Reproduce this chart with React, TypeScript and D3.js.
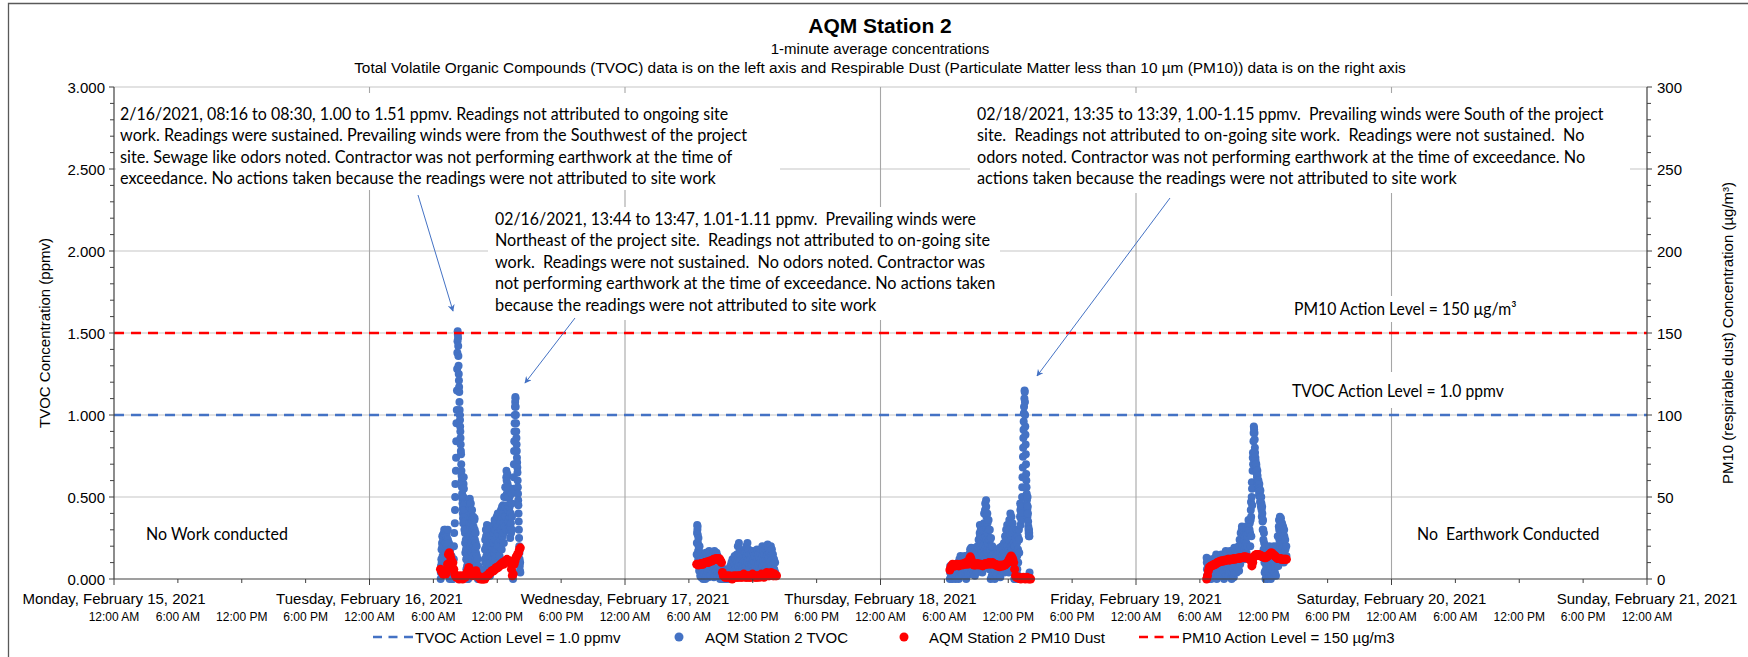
import React from "react";
import * as d3 from "d3";

// ---------------- data ----------------
const dayLabels = [
  "Monday, February 15, 2021",
  "Tuesday, February 16, 2021",
  "Wednesday, February 17, 2021",
  "Thursday, February 18, 2021",
  "Friday, February 19, 2021",
  "Saturday, February 20, 2021",
  "Sunday, February 21, 2021",
];
const hourLabels = ["12:00 AM", "6:00 AM", "12:00 PM", "6:00 PM"];
const tvocTicks = [0, 0.5, 1, 1.5, 2, 2.5, 3];
const pm10Ticks = [0, 50, 100, 150, 200, 250, 300];
const TVOC_ACTION = 1.0;
const PM10_ACTION = 150;
const DOMAIN_START = new Date(2021, 1, 15);
const DOMAIN_END = new Date(2021, 1, 21);

// TVOC (ppmv): each row = [minute of day, readings at consecutive minutes...]
const tvocFeb16: number[][] = [
  [401, 0.0, 0.04, 0.08], [405, 0.12, 0.18, 0.1], [409, 0.22, 0.26, 0.2, 0.14],
  [414, 0.27, 0.24, 0.18, 0.1, 0.05], [420, 0.28, 0.3, 0.26, 0.2, 0.14],
  [427, 0.3, 0.27, 0.22, 0.16, 0.08], [434, 0.29, 0.26, 0.2, 0.12, 0.04],
  [441, 0.3, 0.24, 0.18, 0.1], [448, 0.22, 0.16, 0.1, 0.04, 0.0],
  [455, 0.18, 0.12, 0.06, 0.02], [462, 0.14, 0.08, 0.02, 0.0], [469, 0.1, 0.05, 0.0],
  [475, 0.12, 0.2, 0.28], [481, 0.34, 0.42, 0.5, 0.58], [487, 0.66, 0.74, 0.84, 0.95],
  [492, 1.03, 1.15, 1.28, 1.38, 1.45], [497, 1.51, 1.49, 1.47, 1.42, 1.36, 1.3],
  [503, 1.25, 1.21, 1.17, 1.14, 1.08], [508, 1.03, 1.0, 0.97, 0.93, 0.9],
  [513, 0.86, 0.82, 0.78, 0.76, 0.7], [518, 0.66, 0.63, 0.6, 0.56, 0.52],
  [523, 0.49, 0.46, 0.43, 0.4, 0.37, 0.34], [529, 0.5, 0.58, 0.62, 0.55, 0.45, 0.38, 0.3],
  [536, 0.42, 0.35, 0.28, 0.22, 0.16], [542, 0.3, 0.24, 0.18, 0.12, 0.06],
  [548, 0.2, 0.14, 0.08, 0.02, 0.0], [554, 0.1, 0.05, 0.0],
  [559, 0.18, 0.26, 0.34, 0.42, 0.48], [565, 0.49, 0.44, 0.38, 0.32, 0.26, 0.2],
  [571, 0.46, 0.4, 0.34, 0.28, 0.22, 0.16, 0.1], [578, 0.42, 0.36, 0.3, 0.24, 0.18, 0.12, 0.06],
  [585, 0.38, 0.32, 0.26, 0.2, 0.14, 0.08], [591, 0.36, 0.37, 0.3, 0.24, 0.18, 0.12, 0.05],
  [598, 0.28, 0.22, 0.16, 0.1, 0.04], [604, 0.2, 0.14, 0.08, 0.02], [609, 0.12, 0.06, 0.0],
  [614, 0.08, 0.02, 0.0], [620, 0.06, 0.0], [626, 0.04, 0.0], [632, 0.05, 0.01, 0.0],
  [638, 0.03, 0.0], [644, 0.06, 0.0], [650, 0.12, 0.18, 0.24, 0.1],
  [656, 0.3, 0.26, 0.2, 0.14, 0.08], [662, 0.33, 0.28, 0.22, 0.16, 0.1, 0.04],
  [669, 0.3, 0.24, 0.18, 0.12, 0.06], [675, 0.26, 0.2, 0.14, 0.08, 0.02],
  [681, 0.22, 0.16, 0.1, 0.04], [687, 0.26, 0.2, 0.14, 0.08], [693, 0.3, 0.24, 0.18, 0.12],
  [699, 0.33, 0.28, 0.22, 0.16, 0.1], [705, 0.36, 0.3, 0.24, 0.18, 0.12],
  [711, 0.35, 0.3, 0.24, 0.18], [717, 0.38, 0.32, 0.26, 0.2, 0.14], [723, 0.4, 0.34, 0.28, 0.22],
  [729, 0.38, 0.32, 0.26, 0.2, 0.14], [735, 0.4, 0.35, 0.3, 0.24], [741, 0.42, 0.36, 0.3, 0.24, 0.18],
  [747, 0.44, 0.38, 0.32, 0.26], [753, 0.45, 0.4, 0.34, 0.28, 0.22], [759, 0.5, 0.44, 0.38, 0.32],
  [765, 0.56, 0.5, 0.44, 0.38, 0.3], [771, 0.62, 0.66, 0.6, 0.52, 0.45],
  [777, 0.64, 0.58, 0.5, 0.42, 0.35], [783, 0.56, 0.5, 0.44, 0.38, 0.3],
  [789, 0.5, 0.44, 0.38, 0.32, 0.25], [795, 0.46, 0.4, 0.34, 0.28], [801, 0.52, 0.46, 0.38, 0.3],
  [807, 0.1, 0.04, 0.0], [812, 0.55, 0.62, 0.7, 0.78], [816, 0.84, 0.9, 0.95, 1.0],
  [820, 1.05, 1.08, 1.11, 1.1], [824, 1.05, 1.0, 0.95, 0.9, 0.86],
  [829, 0.82, 0.78, 0.74, 0.71, 0.68, 0.65], [835, 0.6, 0.56, 0.52, 0.48, 0.45],
  [840, 0.4, 0.35, 0.3, 0.25, 0.2], [845, 0.16, 0.12, 0.08, 0.05], [849, 0.1, 0.04],
];

const tvocFeb17: number[][] = [
  [404, 0.15, 0.22, 0.28, 0.33, 0.3], [409, 0.32, 0.27, 0.22, 0.17, 0.12],
  [414, 0.25, 0.2, 0.15, 0.1, 0.05], [420, 0.2, 0.15, 0.1, 0.05, 0.02],
  [426, 0.16, 0.11, 0.06, 0.01], [432, 0.12, 0.07, 0.02], [438, 0.1, 0.05, 0.0],
  [444, 0.13, 0.08, 0.03], [450, 0.15, 0.1, 0.05, 0.0], [456, 0.16, 0.12, 0.07, 0.02],
  [462, 0.15, 0.1, 0.05], [468, 0.16, 0.11, 0.06, 0.01], [474, 0.17, 0.12, 0.07],
  [480, 0.16, 0.11, 0.06, 0.02], [486, 0.15, 0.1, 0.05], [492, 0.14, 0.09, 0.04],
  [498, 0.16, 0.11, 0.06, 0.01], [504, 0.17, 0.12, 0.07], [510, 0.15, 0.1, 0.05],
  [516, 0.16, 0.11, 0.06, 0.02], [522, 0.14, 0.09, 0.04], [528, 0.12, 0.07, 0.02],
  [534, 0.08, 0.03, 0.0], [540, 0.06, 0.01], [546, 0.05, 0.0], [552, 0.04, 0.0],
  [558, 0.05, 0.0], [564, 0.06, 0.01], [570, 0.05, 0.0], [576, 0.04, 0.0],
  [582, 0.06, 0.01], [588, 0.05, 0.0], [594, 0.08, 0.03], [600, 0.1, 0.05, 0.0],
  [606, 0.12, 0.07, 0.02], [612, 0.1, 0.05], [618, 0.14, 0.09, 0.04], [624, 0.12, 0.07, 0.02],
  [630, 0.15, 0.1, 0.05], [636, 0.2, 0.14, 0.08], [642, 0.22, 0.16, 0.1, 0.04],
  [648, 0.18, 0.12, 0.06], [654, 0.14, 0.08, 0.02], [660, 0.12, 0.06], [666, 0.15, 0.1, 0.04],
  [672, 0.17, 0.11, 0.05], [678, 0.16, 0.1, 0.04], [684, 0.2, 0.14, 0.08, 0.02],
  [690, 0.22, 0.16, 0.1], [696, 0.18, 0.12, 0.06], [702, 0.15, 0.09, 0.03], [708, 0.12, 0.06],
  [714, 0.15, 0.09, 0.03], [720, 0.17, 0.11, 0.05], [726, 0.16, 0.1, 0.04], [732, 0.14, 0.08],
  [738, 0.16, 0.1, 0.04], [744, 0.18, 0.12, 0.06], [750, 0.15, 0.09, 0.03], [756, 0.13, 0.07],
  [762, 0.16, 0.1, 0.04], [768, 0.18, 0.12, 0.06], [774, 0.2, 0.14, 0.08], [780, 0.17, 0.11, 0.05],
  [786, 0.15, 0.09], [792, 0.18, 0.12, 0.06], [798, 0.2, 0.14, 0.08, 0.02], [804, 0.21, 0.15, 0.09],
  [810, 0.19, 0.13, 0.07], [816, 0.16, 0.1, 0.04], [822, 0.2, 0.14, 0.08], [828, 0.18, 0.12, 0.06],
  [834, 0.15, 0.09, 0.03], [840, 0.12, 0.06], [846, 0.1, 0.04],
];

const tvocFeb18: number[][] = [
  [391, 0.0, 0.04, 0.08], [397, 0.06, 0.02], [403, 0.08, 0.03, 0.0], [409, 0.09, 0.05],
  [415, 0.07, 0.02], [421, 0.09, 0.04, 0.0], [427, 0.06, 0.01], [433, 0.08, 0.03],
  [439, 0.1, 0.05, 0.0], [445, 0.12, 0.07, 0.02], [451, 0.14, 0.09, 0.04], [457, 0.1, 0.05],
  [463, 0.13, 0.08, 0.03], [469, 0.12, 0.07], [475, 0.14, 0.09, 0.04], [481, 0.12, 0.06, 0.0],
  [487, 0.1, 0.05], [493, 0.13, 0.08, 0.03], [499, 0.15, 0.1, 0.05], [505, 0.18, 0.13, 0.08, 0.03],
  [511, 0.19, 0.14, 0.09, 0.04], [517, 0.16, 0.11, 0.06], [523, 0.14, 0.09, 0.04],
  [529, 0.17, 0.12, 0.07, 0.02], [535, 0.19, 0.14, 0.09], [541, 0.16, 0.1, 0.04],
  [547, 0.2, 0.15, 0.1, 0.05], [553, 0.24, 0.19, 0.14, 0.08], [559, 0.28, 0.33, 0.26, 0.2, 0.14, 0.08],
  [565, 0.3, 0.24, 0.18, 0.12, 0.06], [571, 0.22, 0.16, 0.1, 0.04], [577, 0.26, 0.2, 0.14, 0.08],
  [583, 0.34, 0.4, 0.32, 0.25, 0.18, 0.12], [589, 0.42, 0.46, 0.4, 0.33, 0.26, 0.19],
  [595, 0.48, 0.44, 0.38, 0.31, 0.24, 0.17, 0.1], [602, 0.4, 0.34, 0.28, 0.22, 0.16, 0.1],
  [609, 0.36, 0.3, 0.24, 0.18, 0.12, 0.06], [616, 0.3, 0.24, 0.18, 0.12, 0.06, 0.0],
  [623, 0.25, 0.2, 0.14, 0.08, 0.02], [630, 0.2, 0.14, 0.08, 0.02], [636, 0.15, 0.09, 0.03],
  [642, 0.12, 0.06, 0.0], [648, 0.1, 0.04], [654, 0.14, 0.08, 0.02], [660, 0.18, 0.12, 0.06],
  [666, 0.16, 0.1, 0.04], [672, 0.19, 0.13, 0.07, 0.01], [678, 0.17, 0.11, 0.05],
  [684, 0.2, 0.14, 0.08], [690, 0.18, 0.12, 0.06], [696, 0.22, 0.16, 0.1, 0.04],
  [702, 0.26, 0.2, 0.14, 0.08], [708, 0.3, 0.24, 0.18, 0.12, 0.06], [714, 0.33, 0.27, 0.2, 0.13],
  [720, 0.3, 0.24, 0.17, 0.1, 0.04], [726, 0.36, 0.3, 0.23, 0.16, 0.09],
  [732, 0.4, 0.34, 0.27, 0.2, 0.13], [738, 0.38, 0.32, 0.25, 0.18, 0.11],
  [744, 0.34, 0.28, 0.21, 0.14, 0.07], [750, 0.3, 0.22, 0.14, 0.06, 0.0], [756, 0.2, 0.12, 0.04, 0.0],
  [762, 0.25, 0.16, 0.08, 0.0], [768, 0.3, 0.22, 0.14, 0.06], [774, 0.26, 0.18, 0.1, 0.02],
  [780, 0.3, 0.24, 0.16], [786, 0.38, 0.46, 0.42, 0.33], [792, 0.44, 0.4, 0.36],
  [798, 0.5, 0.56, 0.62], [802, 0.68, 0.745, 0.8, 0.86, 0.91], [807, 0.96, 1.01, 1.05],
  [811, 1.1, 1.15, 1.14, 1.08, 1.0], [816, 0.93, 0.88, 0.82, 0.76], [820, 0.7, 0.64, 0.6, 0.56, 0.52],
  [825, 0.48, 0.45, 0.42, 0.38], [829, 0.5, 0.44, 0.4, 0.35], [833, 0.32, 0.3, 0.28, 0.26],
  [837, 0.3, 0.28, 0.26], [840, 0.04, 0.0],
];

const tvocFeb19: number[][] = [
  [398, 0.13, 0.1, 0.06, 0.02], [404, 0.12, 0.08, 0.04, 0.0], [410, 0.1, 0.05, 0.0], [416, 0.08, 0.03],
  [422, 0.1, 0.05, 0.0], [428, 0.12, 0.07, 0.02], [434, 0.09, 0.04], [440, 0.11, 0.06, 0.01],
  [446, 0.13, 0.08, 0.03], [452, 0.15, 0.1, 0.05, 0.0], [458, 0.14, 0.09, 0.04], [464, 0.12, 0.07, 0.02],
  [470, 0.1, 0.05], [476, 0.13, 0.08, 0.03], [482, 0.15, 0.1, 0.05], [488, 0.12, 0.07, 0.02],
  [494, 0.1, 0.05, 0.0], [500, 0.14, 0.09, 0.04], [506, 0.17, 0.12, 0.07, 0.02], [512, 0.16, 0.11, 0.06],
  [518, 0.12, 0.07, 0.02], [524, 0.14, 0.09, 0.04], [530, 0.17, 0.12, 0.07], [536, 0.15, 0.1, 0.05, 0.0],
  [542, 0.12, 0.07], [548, 0.16, 0.11, 0.06, 0.01], [554, 0.19, 0.14, 0.09, 0.04], [560, 0.18, 0.13, 0.08],
  [566, 0.14, 0.09, 0.04], [572, 0.16, 0.11, 0.06], [578, 0.2, 0.15, 0.1, 0.05],
  [584, 0.24, 0.19, 0.14, 0.09], [590, 0.28, 0.23, 0.18, 0.13], [596, 0.3, 0.32, 0.26, 0.2, 0.14],
  [602, 0.31, 0.27, 0.21, 0.15], [608, 0.29, 0.24, 0.18, 0.12], [614, 0.31, 0.26, 0.2, 0.14],
  [620, 0.32, 0.28, 0.22, 0.16], [626, 0.3, 0.26, 0.2], [632, 0.28, 0.32, 0.36, 0.3],
  [640, 0.3, 0.34, 0.36, 0.28, 0.2], [646, 0.36, 0.42, 0.47, 0.38, 0.26], [652, 0.5, 0.59, 0.55, 0.45],
  [657, 0.66, 0.74, 0.77, 0.7], [662, 0.84, 0.89, 0.93, 0.92, 0.91], [668, 0.89, 0.85, 0.8, 0.77],
  [673, 0.74, 0.72, 0.7, 0.67], [678, 0.7, 0.68, 0.66, 0.64, 0.62], [684, 0.66, 0.63, 0.6, 0.58, 0.55],
  [690, 0.6, 0.57, 0.54, 0.51], [695, 0.58, 0.55, 0.52, 0.5, 0.47], [701, 0.54, 0.5, 0.47, 0.44],
  [706, 0.5, 0.46, 0.42, 0.38], [711, 0.44, 0.4, 0.35, 0.3], [716, 0.36, 0.3, 0.24, 0.18],
  [721, 0.28, 0.22, 0.16, 0.1, 0.04], [727, 0.2, 0.12, 0.05, 0.0], [733, 0.15, 0.08, 0.02],
  [739, 0.12, 0.06, 0.0], [745, 0.16, 0.1, 0.04], [751, 0.2, 0.14, 0.08, 0.02], [757, 0.18, 0.12, 0.06, 0.0],
  [763, 0.14, 0.08, 0.02], [769, 0.17, 0.11, 0.05], [775, 0.2, 0.14, 0.08, 0.02], [781, 0.16, 0.1, 0.04],
  [787, 0.14, 0.08, 0.02], [793, 0.2, 0.14, 0.08], [799, 0.26, 0.2, 0.14, 0.08],
  [805, 0.32, 0.36, 0.3, 0.24, 0.18], [811, 0.38, 0.36, 0.32, 0.26, 0.2], [817, 0.37, 0.33, 0.28, 0.22, 0.16],
  [823, 0.34, 0.3, 0.25, 0.19, 0.13], [829, 0.32, 0.28, 0.22, 0.16, 0.1], [835, 0.3, 0.26, 0.2, 0.14],
  [841, 0.24, 0.18, 0.12], [847, 0.2, 0.14],
];

// PM10 (ug/m3): readings every 5 minutes from the start minute
const pm10Feb16Start = 400;
const pm10Feb16: number[] = [
  6, 5, 4, 3, 3, 4, 3, 5, 9, 15, 16, 14, 12, 8, 10, 6, 3, 2, 1, 2, 1, 0, 1, 2, 1, 0, 1, 2, 1, 3,
  4, 5, 7, 6, 4, 3, 2, 3, 4, 3, 5, 3, 2, 1, 1, 0, 1, 0, 0, 1, 0, 1, 2, 2, 3, 3, 4, 4, 5, 5,
  5, 6, 6, 7, 7, 7, 8, 8, 9, 9, 10, 9, 10, 11, 11, 12, 11, 10, 11, 10, 6, 2, 3, 9, 11, 13, 14, 15, 16, 18, 19,
];
const pm10Feb17Start = 404;
const pm10Feb17: number[] = [
  9, 9, 8.5, 9, 9, 9.5, 9, 9, 9.5, 10, 10, 10, 10.5, 10, 10.5, 11, 11, 11, 11.5, 12, 12, 12, 12.5, 12, 12, 12.5, 12, 11, 10,
  4, 2, 2, 1, 1, 2, 1, 1, 2, 1, 1, 0, 1, 2, 1, 1, 2, 1, 1, 2, 2, 1, 1, 2, 3, 2, 1, 1, 2, 1, 2, 1,
  1, 2, 3, 2, 1, 2, 1, 1, 2, 2, 1, 2, 3, 2, 2, 1, 2, 3, 4, 3, 2, 2, 3, 4, 3, 2, 2, 3, 2, 2,
];
const pm10Feb18Start = 391;
const pm10Feb18: number[] = [
  5.5, 7, 8, 9, 8.5, 8, 8, 8.5, 9, 8.5, 8, 8.5, 9, 9, 8.5, 9, 9.5, 9, 10, 9.5, 9, 10, 12,
  13.5, 12, 10, 9, 8.5, 9, 8.5, 9, 9.5, 9, 8.5, 9, 9, 8.5, 8, 8.5, 9, 9.5, 9,
  9, 9.5, 10, 9.5, 9, 9.5, 10, 9.5, 9, 9, 8.5, 8, 8.5, 8, 7.5, 8, 8.5, 8, 8, 8.5,
  8.5, 9, 9.5, 10, 11, 12, 13, 14, 13, 12, 10, 6, 2, 1, 1, 0.5, 1, 0.5, 0, 0.5,
  0.5, 1, 0.5, 0, 0.5, 1, 0.5, 0, 0.5, 0,
];
const pm10Feb19Start = 398;
const pm10Feb19: number[] = [
  0, 2, 5, 7, 7.5, 8, 8, 8.5, 8.5, 9, 9, 9.5, 10, 10, 10.5, 10.5, 11, 11, 11, 11, 11.5, 11.5, 11.5, 11.5,
  12, 12, 11.5, 12, 12, 12, 12, 12.5, 12, 12.5, 12.5, 12.5, 13, 12.5, 13, 13, 13, 13, 13.5, 13, 13.5,
  13, 13, 12.5, 13, 12.5, 11, 8, 10, 13, 14, 14.5, 15, 15, 14.5, 15, 14.5, 14, 14, 13.5, 13.5, 13, 13, 13,
  13.5, 14, 14.5, 15, 15.5, 16, 15.5, 15, 14.5, 14, 13.5, 13, 12.5, 12.5, 12.5, 12.5, 12, 12, 12, 12, 12, 12, 12,
];

// annotation texts
const note1 = [
  "2/16/2021, 08:16 to 08:30, 1.00 to 1.51 ppmv. Readings not attributed to ongoing site",
  "work. Readings were sustained. Prevailing winds were from the Southwest of the project",
  "site. Sewage like odors noted. Contractor was not performing earthwork at the time of",
  "exceedance. No actions taken because the readings were not attributed to site work",
];
const note2 = [
  "02/16/2021, 13:44 to 13:47, 1.01-1.11 ppmv.  Prevailing winds were",
  "Northeast of the project site.  Readings not attributed to on-going site",
  "work.  Readings were not sustained.  No odors noted. Contractor was",
  "not performing earthwork at the time of exceedance. No actions taken",
  "because the readings were not attributed to site work",
];
const note3 = [
  "02/18/2021, 13:35 to 13:39, 1.00-1.15 ppmv.  Prevailing winds were South of the project",
  "site.  Readings not attributed to on-going site work.  Readings were not sustained.  No",
  "odors noted. Contractor was not performing earthwork at the time of exceedance. No",
  "actions taken because the readings were not attributed to site work",
];

// ---------------- layout / style ----------------
const W = 1748;
const H = 657;
const P = { left: 114, right: 1647, top: 87, bottom: 579 };
const BLUE = "#4472C4";
const RED = "#FF0000";
const ARIAL = "'Liberation Sans', Arial, sans-serif";
const CAL = "Lato, 'Open Sans', sans-serif";
const CAL_PX = 17.4; // nominal size of the original annotation font
const CAL_GLYPH = 16.3; // glyph size used for the substitute font

// advance widths (1/2048 em) of the original annotation font, used to lay lines out at the same length
const CAL_W: Record<string, number> = {
  " ": 463, "(": 621, ")": 621, ",": 511, "-": 627, ".": 517, "/": 791, ":": 548, "=": 1038,
  "0": 1038, "1": 1038, "2": 1038, "3": 1038, "4": 1038, "5": 1038, "6": 1038, "7": 1038, "8": 1038, "9": 1038,
  A: 1185, B: 1114, C: 1092, D: 1260, E: 1000, F: 941, G: 1292, H: 1276, I: 516, J: 653, K: 1064, L: 861,
  M: 1751, N: 1322, O: 1356, P: 1058, Q: 1378, R: 1112, S: 941, T: 998, U: 1314, V: 1162, W: 1822,
  X: 1063, Y: 998, Z: 959,
  a: 981, b: 1076, c: 866, d: 1076, e: 1019, f: 625, g: 964, h: 1076, i: 470, j: 490, k: 931, l: 470,
  m: 1636, n: 1076, o: 1080, p: 1076, q: 1076, r: 714, s: 801, t: 686, u: 1076, v: 925, w: 1464,
  x: 887, y: 927, z: 809, "µ": 1076, "³": 700,
};
const calWidth = (s: string) =>
  Array.from(s).reduce((acc, ch) => acc + (CAL_W[ch] ?? 1000), 0) / 2048 * CAL_PX;

type Pt = { t: Date; v: number };
function groupsToPoints(day: number, groups: number[][]): Pt[] {
  const out: Pt[] = [];
  groups.forEach((g) => {
    const m = g[0];
    g.slice(1).forEach((v, i) => out.push({ t: new Date(2021, 1, day, 0, m + i), v }));
  });
  return out;
}
function stepToPoints(day: number, start: number, vals: number[]): Pt[] {
  return vals.map((v, i) => ({ t: new Date(2021, 1, day, 0, start + i * 5), v }));
}

const CalText = ({ x, y, children }: { x: number; y: number; children: string }) => (
  <text
    x={x}
    y={y}
    fontFamily={CAL}
    fontSize={CAL_GLYPH}
    fill="#000"
    dominantBaseline="central"
    textLength={calWidth(children)}
    lengthAdjust="spacingAndGlyphs"
    style={{ whiteSpace: "pre" }}
  >
    {children}
  </text>
);

export default function App() {
  const x = d3.scaleTime().domain([DOMAIN_START, DOMAIN_END]).range([P.left, P.right]);
  const yL = d3.scaleLinear().domain([0, 3]).range([P.bottom, P.top]);
  const yR = d3.scaleLinear().domain([0, 300]).range([P.bottom, P.top]);

  const tvoc = [
    ...groupsToPoints(16, tvocFeb16),
    ...groupsToPoints(17, tvocFeb17),
    ...groupsToPoints(18, tvocFeb18),
    ...groupsToPoints(19, tvocFeb19),
  ];
  const pm10 = [
    ...stepToPoints(16, pm10Feb16Start, pm10Feb16),
    ...stepToPoints(17, pm10Feb17Start, pm10Feb17),
    ...stepToPoints(18, pm10Feb18Start, pm10Feb18),
    ...stepToPoints(19, pm10Feb19Start, pm10Feb19),
  ];

  const sixHour = x.ticks(d3.timeHour.every(6) as any);
  const days = x.ticks(d3.timeDay.every(1) as any);
  const minorL = d3.range(0, 3.0001, 0.1);
  const minorR = d3.range(0, 300.001, 10);

  // white text-box backgrounds (they hide the gridlines behind the notes)
  const boxes = [
    { x: 116, y: 93, w: 664, h: 97 },
    { x: 488, y: 207, w: 512, h: 113 },
    { x: 970, y: 93, w: 660, h: 100 },
    { x: 1286, y: 296, w: 232, h: 26 },
    { x: 1284, y: 372, w: 222, h: 36 },
  ];

  const LS = 21.6;
  const noteTop1 = 113;
  const noteTop2 = 218;

  return (
    <svg
      width={W}
      height={H}
      style={{ position: "absolute", left: 0, top: 0, background: "#fff" }}
      fontFamily={ARIAL}
    >
      <defs>
        <marker id="arr" viewBox="0 0 10 10" refX="9" refY="5" markerWidth="7" markerHeight="7" orient="auto">
          <path d="M0,0 L10,5 L0,10 L3,5 z" fill={BLUE} />
        </marker>
      </defs>
      <rect x={0} y={0} width={W} height={H} fill="#fff" />
      <path d={`M8.5,${H} V3.5 H${W}`} fill="none" stroke="#595959" strokeWidth={1.3} />

      {/* titles */}
      <text x={880} y={25.5} textAnchor="middle" dominantBaseline="central" fontSize={21} fontWeight="bold">
        AQM Station 2
      </text>
      <text x={880} y={48} textAnchor="middle" dominantBaseline="central" fontSize={15}>
        1-minute average concentrations
      </text>
      <text x={880} y={67.5} textAnchor="middle" dominantBaseline="central" fontSize={15.4}>
        Total Volatile Organic Compounds (TVOC) data is on the left axis and Respirable Dust (Particulate Matter less than 10 µm (PM10)) data is on the right axis
      </text>

      {/* gridlines */}
      {tvocTicks.filter((t) => t > 0).map((t) => (
        <line key={"hg" + t} x1={P.left} x2={P.right} y1={yL(t)} y2={yL(t)} stroke="#D9D9D9" strokeWidth={1.3} />
      ))}
      {days.slice(1, -1).map((d, i) => (
        <line key={"vg" + i} x1={x(d)} x2={x(d)} y1={P.top} y2={P.bottom} stroke="#A6A6A6" strokeWidth={1.1} />
      ))}

      {boxes.map((b, i) => (
        <rect key={"bx" + i} x={b.x} y={b.y} width={b.w} height={b.h} fill="#fff" />
      ))}

      <line x1={P.left} x2={P.right} y1={yL(TVOC_ACTION)} y2={yL(TVOC_ACTION)} stroke={BLUE} strokeWidth={2.6} strokeDasharray="10 7" />

      {tvoc.map((p, i) => (
        <circle key={"t" + i} cx={x(p.t)} cy={yL(p.v)} r={4} fill={BLUE} />
      ))}
      {pm10.map((p, i) => (
        <circle key={"p" + i} cx={x(p.t)} cy={yR(p.v)} r={4.5} fill={RED} />
      ))}

      <line x1={P.left} x2={P.right} y1={yR(PM10_ACTION)} y2={yR(PM10_ACTION)} stroke={RED} strokeWidth={2.6} strokeDasharray="10 7" />

      {/* axes */}
      <line x1={P.left} x2={P.left} y1={P.top} y2={P.bottom} stroke="#404040" strokeWidth={1.2} />
      <line x1={P.right} x2={P.right} y1={P.top} y2={P.bottom} stroke="#404040" strokeWidth={1.2} />
      <line x1={P.left} x2={P.right} y1={P.bottom} y2={P.bottom} stroke="#404040" strokeWidth={1.2} />
      {minorL.map((t, i) => (
        <line key={"ml" + i} x1={P.left - (i % 5 === 0 ? 5 : 4)} x2={P.left} y1={yL(t)} y2={yL(t)} stroke="#404040" strokeWidth={1} />
      ))}
      {minorR.map((t, i) => (
        <line key={"mr" + i} x1={P.right} x2={P.right + (i % 5 === 0 ? 5 : 4)} y1={yR(t)} y2={yR(t)} stroke="#404040" strokeWidth={1} />
      ))}
      {sixHour.map((d, i) => (
        <line key={"xt" + i} x1={x(d)} x2={x(d)} y1={P.bottom} y2={P.bottom + (i % 4 === 0 ? 6 : 4)} stroke="#404040" strokeWidth={1} />
      ))}

      {tvocTicks.map((t) => (
        <text key={"tl" + t} x={P.left - 9} y={yL(t)} textAnchor="end" dominantBaseline="central" fontSize={15} fill="#000">
          {d3.format(".3f")(t)}
        </text>
      ))}
      {pm10Ticks.map((t) => (
        <text key={"tr" + t} x={P.right + 10} y={yR(t)} dominantBaseline="central" fontSize={15} fill="#000">
          {t}
        </text>
      ))}
      {days.map((d, i) => (
        <text key={"dl" + i} x={x(d)} y={598} textAnchor="middle" dominantBaseline="central" fontSize={15} fill="#000">
          {dayLabels[i]}
        </text>
      ))}
      {sixHour.map((d, i) => (
        <text key={"hl" + i} x={x(d)} y={617} textAnchor="middle" dominantBaseline="central" fontSize={12} fill="#000">
          {hourLabels[i % 4]}
        </text>
      ))}
      <text transform={`translate(44,${(P.top + P.bottom) / 2}) rotate(-90)`} textAnchor="middle" dominantBaseline="central" fontSize={15} fill="#000">
        TVOC Concentration (ppmv)
      </text>
      <text transform={`translate(1727,${(P.top + P.bottom) / 2}) rotate(-90)`} textAnchor="middle" dominantBaseline="central" fontSize={15} fill="#000">
        PM10 (respirable dust) Concentration (µg/m³)
      </text>

      {/* notes */}
      {note1.map((s, i) => (
        <CalText key={"n1" + i} x={120} y={noteTop1 + i * LS}>{s}</CalText>
      ))}
      {note2.map((s, i) => (
        <CalText key={"n2" + i} x={495} y={noteTop2 + i * LS}>{s}</CalText>
      ))}
      {note3.map((s, i) => (
        <CalText key={"n3" + i} x={977} y={noteTop1 + i * LS}>{s}</CalText>
      ))}
      <CalText x={1294} y={308}>PM10 Action Level = 150 µg/m³</CalText>
      <CalText x={1292} y={390}>TVOC Action Level = 1.0 ppmv</CalText>
      <CalText x={146} y={533}>No Work conducted</CalText>
      <CalText x={1417} y={533}>No  Earthwork Conducted</CalText>

      {/* arrows */}
      <line x1={418} y1={195} x2={453} y2={311} stroke={BLUE} strokeWidth={1} markerEnd="url(#arr)" />
      <line x1={575} y1={318} x2={525} y2={383} stroke={BLUE} strokeWidth={1} markerEnd="url(#arr)" />
      <line x1={1170} y1={198} x2={1037} y2={376} stroke={BLUE} strokeWidth={1} markerEnd="url(#arr)" />

      {/* legend */}
      <line x1={373} x2={413} y1={637} y2={637} stroke={BLUE} strokeWidth={2.6} strokeDasharray="9 6.5" />
      <text x={415} y={637} dominantBaseline="central" fontSize={15} fill="#000">TVOC Action Level = 1.0 ppmv</text>
      <circle cx={679} cy={637} r={4.5} fill={BLUE} />
      <text x={705} y={637} dominantBaseline="central" fontSize={15} fill="#000">AQM Station 2 TVOC</text>
      <circle cx={904} cy={637} r={4.5} fill={RED} />
      <text x={929} y={637} dominantBaseline="central" fontSize={15} fill="#000">AQM Station 2 PM10 Dust</text>
      <line x1={1139} x2={1179} y1={637} y2={637} stroke={RED} strokeWidth={2.6} strokeDasharray="9 6.5" />
      <text x={1182} y={637} dominantBaseline="central" fontSize={15} fill="#000">PM10 Action Level = 150 µg/m3</text>
    </svg>
  );
}
